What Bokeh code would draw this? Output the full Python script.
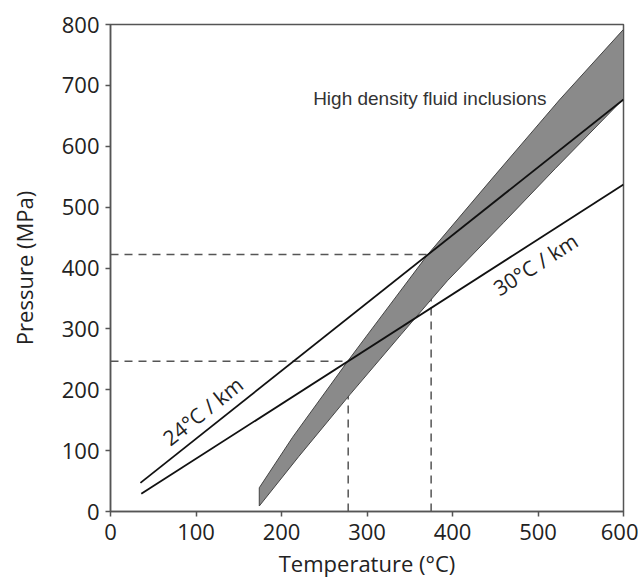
from bokeh.plotting import figure
from bokeh.models import Range1d, FixedTicker
from bokeh.core.properties import value
from bokeh.embed import file_html
from bokeh.resources import INLINE

# ---- data ----
x_ticks = [0, 100, 200, 300, 400, 500, 600]
y_ticks = [0, 100, 200, 300, 400, 500, 600, 700, 800]

# high density fluid inclusion isochore band
band_upper_T = [174, 213, 278, 302, 371, 450, 525, 600]
band_upper_P = [39, 122, 248, 293, 422, 553, 676, 792]
band_lower_T = [174, 220, 280, 340, 394, 460, 520, 600]
band_lower_P = [9, 90, 192, 291, 379, 475, 563, 678]

# geotherms
geo24_T = [35, 600]
geo24_P = [47, 677]
geo30_T = [36, 600]
geo30_P = [29, 537]

# intersection guide lines (T, P)
guide_T = [375, 278]
guide_P = [422, 247]

FONT = "Open Sans"

p = figure(width=638, height=580, output_backend="svg", toolbar_location=None,
           x_range=Range1d(0, 600), y_range=Range1d(0, 800),
           min_border_left=110, min_border_right=15, min_border_top=24, min_border_bottom=69)
p.xgrid.visible = False
p.ygrid.visible = False
p.outline_line_color = "#555555"
p.outline_line_width = 1.5
p.background_fill_color = "white"
p.border_fill_color = "white"

for ax in (p.xaxis[0], p.yaxis[0]):
    ax.axis_line_color = "#555555"
    ax.axis_line_width = 1.5
    ax.major_tick_line_color = "#555555"
    ax.major_tick_line_width = 1.5
    ax.major_tick_out = 5
    ax.major_tick_in = 0
    ax.minor_tick_line_color = None
    ax.major_label_text_font = FONT
    ax.major_label_text_font_size = "22px"
    ax.major_label_text_color = "#222222"
    ax.axis_label_text_font = FONT
    ax.axis_label_text_font_size = "22px"
    ax.axis_label_text_font_style = "normal"
    ax.axis_label_text_color = "#222222"

p.xaxis.ticker = FixedTicker(ticks=x_ticks)
p.yaxis.ticker = FixedTicker(ticks=y_ticks)
p.xaxis.axis_label = "Temperature (°C)"
p.yaxis.axis_label = "Pressure (MPa)"
p.xaxis.major_label_standoff = 7
p.yaxis.major_label_standoff = 6
p.xaxis.axis_label_standoff = 5
p.yaxis.axis_label_standoff = 20

# dashed guide lines (under the band)
for T, P in zip(guide_T, guide_P):
    p.line([0, T], [P, P], line_color="#555555", line_width=1.5, line_dash="8 6")
    p.line([T, T], [0, P], line_color="#555555", line_width=1.5, line_dash="8 6")

# band
band_T = band_upper_T + band_lower_T[::-1]
band_P = band_upper_P + band_lower_P[::-1]
p.patch(band_T, band_P, fill_color="#8a8a8a", line_color="#444444", line_width=1)

# geotherms
p.line(geo24_T, geo24_P, line_color="#111111", line_width=1.8)
p.line(geo30_T, geo30_P, line_color="#111111", line_width=1.8)

# labels
p.text(x=[108], y=[165], text=["24°C / km"], angle=[38.5], angle_units="deg",
       text_font=value(FONT), text_font_size="21px", text_color="#222222",
       text_align="center", text_baseline="middle")
p.text(x=[497], y=[406], text=["30°C / km"], angle=[32.7], angle_units="deg",
       text_font=value(FONT), text_font_size="21px", text_color="#222222",
       text_align="center", text_baseline="middle")
p.text(x=[237], y=[678], text=["High density fluid inclusions"],
       text_font=value("Liberation Sans"), text_font_size="19px", text_color="#333333",
       text_align="left", text_baseline="middle")

open("out.html", "w").write(file_html(p, INLINE))
